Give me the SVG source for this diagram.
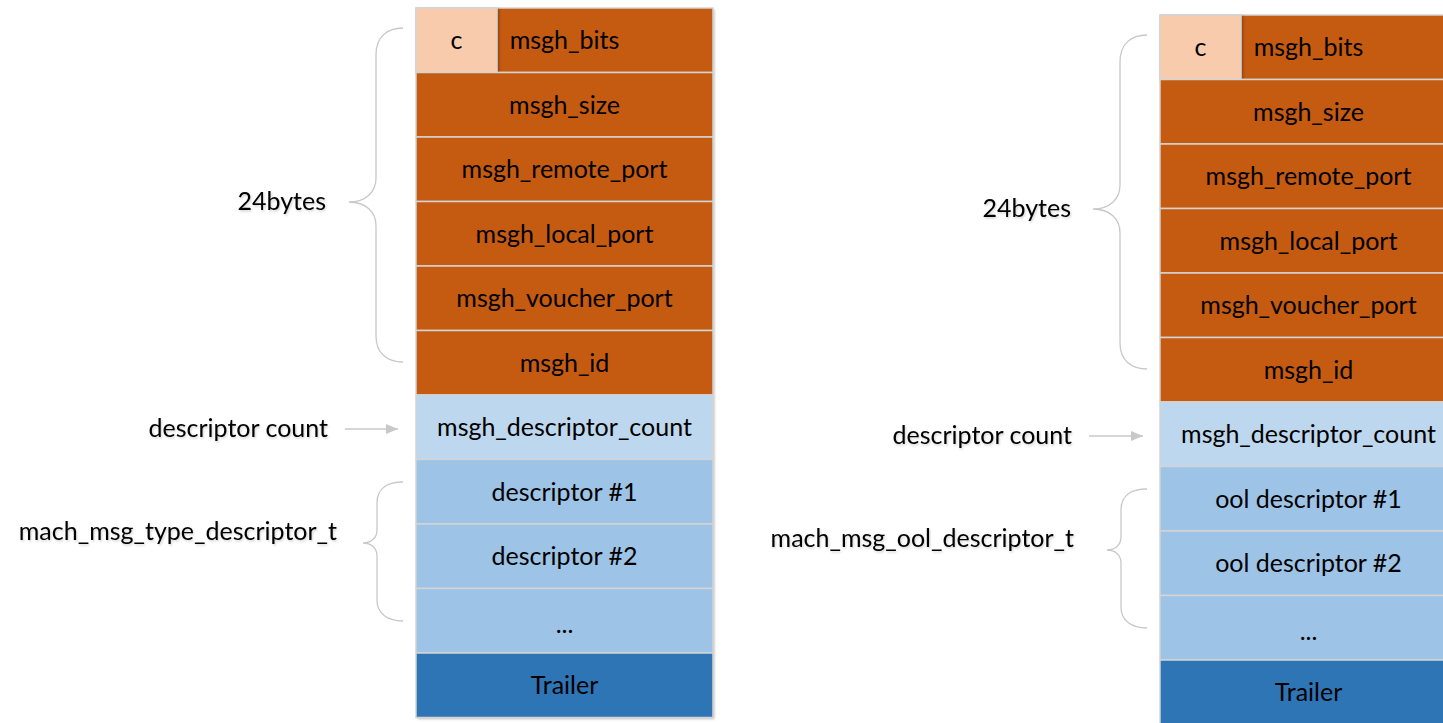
<svg xmlns="http://www.w3.org/2000/svg" width="1443" height="723" viewBox="0 0 1443 723">
  <defs>
    <filter id="soft" x="-5%" y="-5%" width="115%" height="115%">
      <feDropShadow dx="1.5" dy="1.5" stdDeviation="1.2" flood-color="#000" flood-opacity="0.25"/>
    </filter>
    <filter id="halo" x="-5%" y="-20%" width="110%" height="150%">
      <feDropShadow dx="1" dy="1.5" stdDeviation="1" flood-color="#000" flood-opacity="0.18"/>
    </filter>
    <marker id="head" markerWidth="12" markerHeight="10" refX="12" refY="5" orient="auto" markerUnits="userSpaceOnUse">
      <path d="M0,0 L12,5 L0,10 Z" fill="#C8C8C8"/>
    </marker>
  </defs>
  <style>
    text { font-family: Lato, "Open Sans", "Liberation Sans", sans-serif; font-size: 25px; fill: #000; }
    .cell text { text-anchor: middle; }
    .cell rect { stroke: #D4D4D4; stroke-width: 1.5; }
    .hdr { fill: #C55A11; }
    .bits { fill: #F8CBAD; }
    .cnt { fill: #BDD7EE; }
    .desc { fill: #9DC3E6; }
    .trl { fill: #2E75B6; }
    .label { text-anchor: end; filter: url(#halo); }
    .brace { fill: none; stroke: #C8C8C8; stroke-width: 1.3; }
    .arrow { stroke: #C8C8C8; stroke-width: 1.5; marker-end: url(#head); }
  </style>

  <rect width="1443" height="723" fill="#FFFFFF"/>

  <!-- mach_msg_type_descriptor_t message layout -->
  <g id="msg-type">
    <rect x="416" y="8" width="297" height="709.5" fill="#FFF" filter="url(#soft)"/>
    <g id="type-msgh-bits" class="cell"><rect class="hdr" x="416" y="8" width="297" height="64.5"/><text x="564.5" y="49">msgh_bits</text></g>
    <g id="type-c" class="cell"><rect class="bits" x="416" y="8" width="81" height="64.5" filter="url(#soft)"/><text x="456.5" y="49">c</text></g>
    <g id="type-msgh-size" class="cell"><rect class="hdr" x="416" y="72.5" width="297" height="64.5"/><text x="564.5" y="113.5">msgh_size</text></g>
    <g id="type-remote-port" class="cell"><rect class="hdr" x="416" y="137" width="297" height="64.5"/><text x="564.5" y="178">msgh_remote_port</text></g>
    <g id="type-local-port" class="cell"><rect class="hdr" x="416" y="201.5" width="297" height="64.5"/><text x="564.5" y="242.5">msgh_local_port</text></g>
    <g id="type-voucher-port" class="cell"><rect class="hdr" x="416" y="266" width="297" height="64.5"/><text x="564.5" y="307">msgh_voucher_port</text></g>
    <g id="type-msgh-id" class="cell"><rect class="hdr" x="416" y="330.5" width="297" height="64.5"/><text x="564.5" y="371.5">msgh_id</text></g>
    <g id="type-desc-count" class="cell"><rect class="cnt" x="416" y="395" width="297" height="64.5"/><text x="564.5" y="436">msgh_descriptor_count</text></g>
    <g id="type-desc-1" class="cell"><rect class="desc" x="416" y="459.5" width="297" height="64.5"/><text x="564.5" y="500.5">descriptor #1</text></g>
    <g id="type-desc-2" class="cell"><rect class="desc" x="416" y="524" width="297" height="64.5"/><text x="564.5" y="565">descriptor #2</text></g>
    <g id="type-desc-more" class="cell"><rect class="desc" x="416" y="588.5" width="297" height="64.5"/><text x="564.5" y="633">...</text></g>
    <g id="type-trailer" class="cell"><rect class="trl" x="416" y="653" width="297" height="64.5"/><text x="564.5" y="694">Trailer</text></g>
  </g>

  <!-- mach_msg_ool_descriptor_t message layout -->
  <g id="msg-ool" transform="translate(744,7)">
    <rect x="416" y="8" width="297" height="709.5" fill="#FFF" filter="url(#soft)"/>
    <g id="ool-msgh-bits" class="cell"><rect class="hdr" x="416" y="8" width="297" height="64.5"/><text x="564.5" y="49">msgh_bits</text></g>
    <g id="ool-c" class="cell"><rect class="bits" x="416" y="8" width="81" height="64.5" filter="url(#soft)"/><text x="456.5" y="49">c</text></g>
    <g id="ool-msgh-size" class="cell"><rect class="hdr" x="416" y="72.5" width="297" height="64.5"/><text x="564.5" y="113.5">msgh_size</text></g>
    <g id="ool-remote-port" class="cell"><rect class="hdr" x="416" y="137" width="297" height="64.5"/><text x="564.5" y="178">msgh_remote_port</text></g>
    <g id="ool-local-port" class="cell"><rect class="hdr" x="416" y="201.5" width="297" height="64.5"/><text x="564.5" y="242.5">msgh_local_port</text></g>
    <g id="ool-voucher-port" class="cell"><rect class="hdr" x="416" y="266" width="297" height="64.5"/><text x="564.5" y="307">msgh_voucher_port</text></g>
    <g id="ool-msgh-id" class="cell"><rect class="hdr" x="416" y="330.5" width="297" height="64.5"/><text x="564.5" y="371.5">msgh_id</text></g>
    <g id="ool-desc-count" class="cell"><rect class="cnt" x="416" y="395" width="297" height="64.5"/><text x="564.5" y="436">msgh_descriptor_count</text></g>
    <g id="ool-desc-1" class="cell"><rect class="desc" x="416" y="459.5" width="297" height="64.5"/><text x="564.5" y="500.5">ool descriptor #1</text></g>
    <g id="ool-desc-2" class="cell"><rect class="desc" x="416" y="524" width="297" height="64.5"/><text x="564.5" y="565">ool descriptor #2</text></g>
    <g id="ool-desc-more" class="cell"><rect class="desc" x="416" y="588.5" width="297" height="64.5"/><text x="564.5" y="633">...</text></g>
    <g id="ool-trailer" class="cell"><rect class="trl" x="416" y="653" width="297" height="64.5"/><text x="564.5" y="694">Trailer</text></g>
  </g>

  <!-- side labels -->
  <g id="labels">
    <text class="label" x="326" y="210">24bytes</text>
    <text class="label" x="328" y="437">descriptor count</text>
    <text class="label" x="337" y="540">mach_msg_type_descriptor_t</text>
    <text class="label" x="1071" y="217">24bytes</text>
    <text class="label" x="1072" y="444">descriptor count</text>
    <text class="label" x="1074" y="547">mach_msg_ool_descriptor_t</text>
  </g>

  <!-- braces and arrows -->
  <g id="connectors">
    <path class="brace" d="M403,28 C388,28 376,36 376,55 L376,178 C376,192 366,202 349,202 C366,202 376,212 376,226 L376,336 C376,354 388,362 403,362"/>
    <path class="brace" d="M403,482 C388,482 377,488 377,503 L377,530 C377,538 371,543 363,543 C371,543 377,548 377,556 L377,600 C377,614 388,621 403,621"/>
    <line class="arrow" x1="345" y1="429" x2="398" y2="429"/>
    <path class="brace" d="M1147,35 C1132,35 1120,43 1120,62 L1120,185 C1120,199 1110,209 1093,209 C1110,209 1120,219 1120,233 L1120,343 C1120,361 1132,369 1147,369"/>
    <path class="brace" d="M1147,489 C1132,489 1121,495 1121,510 L1121,537 C1121,545 1115,550 1107,550 C1115,550 1121,555 1121,563 L1121,607 C1121,621 1132,628 1147,628"/>
    <line class="arrow" x1="1089" y1="436" x2="1143" y2="436"/>
  </g>
</svg>
